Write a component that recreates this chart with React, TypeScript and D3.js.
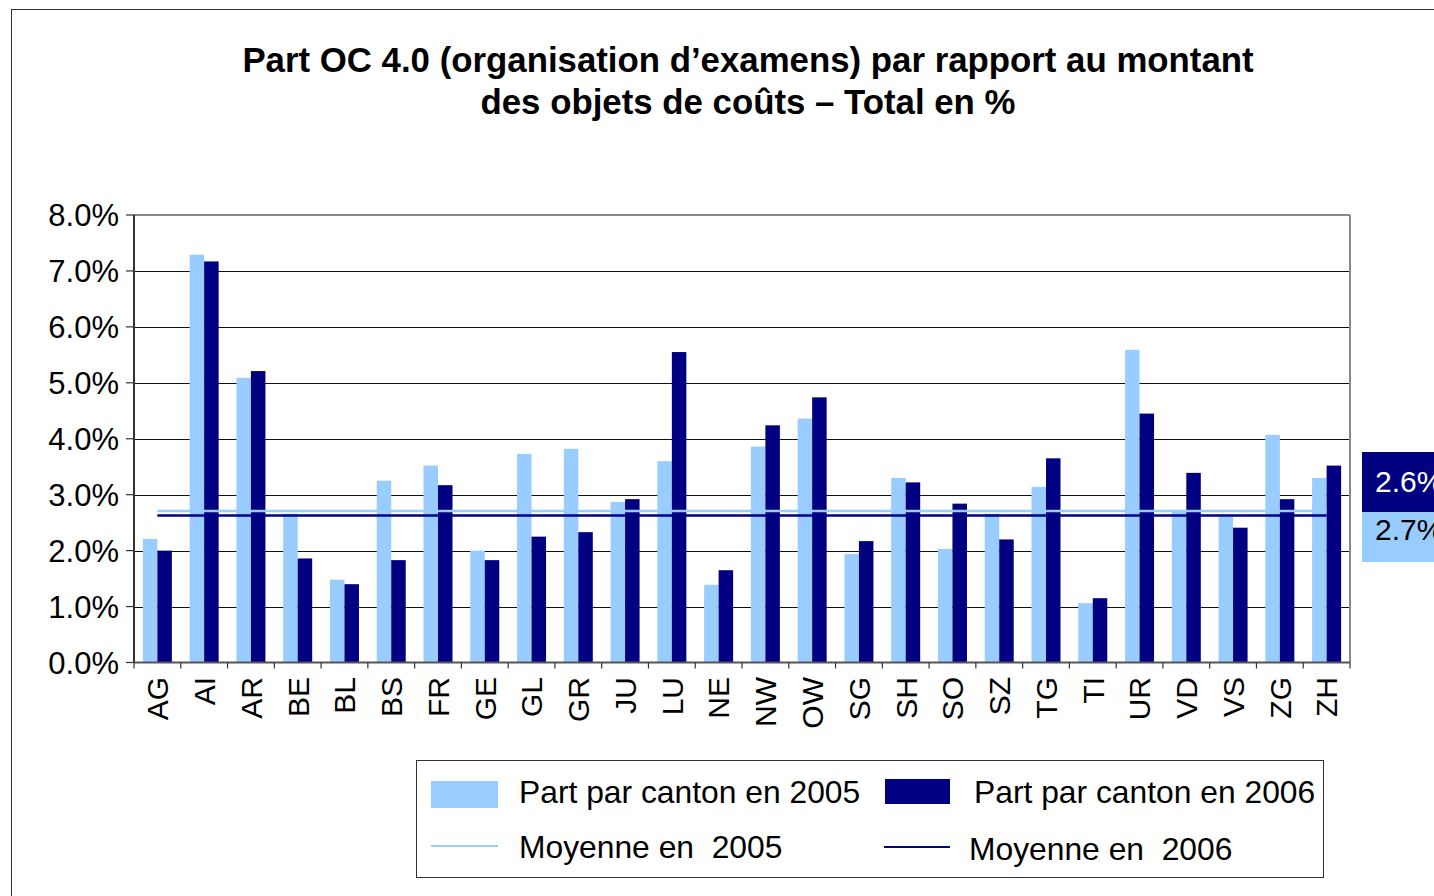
import React from 'react';
import * as d3 from 'd3';

const categories = ['AG','AI','AR','BE','BL','BS','FR','GE','GL','GR','JU','LU','NE','NW','OW','SG','SH','SO','SZ','TG','TI','UR','VD','VS','ZG','ZH'];
const values2005 = [2.21,7.29,5.09,2.66,1.48,3.25,3.52,2.0,3.73,3.82,2.87,3.60,1.39,3.86,4.36,1.94,3.30,2.03,2.66,3.14,1.06,5.59,2.70,2.61,4.07,3.30];
const values2006 = [2.0,7.17,5.21,1.86,1.40,1.83,3.17,1.83,2.25,2.33,2.92,5.55,1.65,4.24,4.74,2.17,3.22,2.84,2.20,3.65,1.15,4.45,3.39,2.41,2.92,3.52];
const average2005 = 2.71;
const average2006 = 2.63;
const yTicks = [0,1,2,3,4,5,6,7,8];
const titleLines = ['Part OC 4.0 (organisation d\u2019examens) par rapport au montant', 'des objets de co\u00fbts \u2013 Total en %'];
const legendLabels = ['Part par canton en 2005', 'Part par canton en 2006', 'Moyenne en  2005', 'Moyenne en  2006'];

const LIGHT = '#99ccff';
const DARK = '#000080';
const FONT = '"Liberation Sans", Arial, Helvetica, sans-serif';

export default function App() {
  const W = 1434, H = 896;
  const left = 134, right = 1350, top = 215, bottom = 662.5;
  const x = d3.scaleBand<string>().domain(categories).range([left, right]).padding(0);
  const y = d3.scaleLinear().domain([0, 8]).range([bottom, top]);
  const step = x.step();
  const barW = step * 0.31;
  const fmt = (v: number) => d3.format('.1f')(v) + '%';
  const firstC = (x(categories[0]) as number) + step / 2;
  const lastC = (x(categories[categories.length - 1]) as number) + step / 2;
  const pre = { whiteSpace: 'pre' as const };

  return (
    <svg width={W} height={H} style={{ position: 'absolute', left: 0, top: 0, display: 'block', background: '#fff' }} fontFamily={FONT}>
      <rect x={11.5} y={9.5} width={W + 20} height={H + 20} fill="#fff" stroke="#333" strokeWidth={1} />
      {titleLines.map((t, i) => (
        <text key={i} x={748} y={72 + i * 42} textAnchor="middle" fontWeight="bold" fontSize={34.8} fill="#000">{t}</text>
      ))}
      {/* gridlines */}
      {yTicks.filter(t => t > 0 && t < 8).map(t => (
        <line key={t} x1={left} x2={right} y1={Math.round(y(t)) + 0.5} y2={Math.round(y(t)) + 0.5} stroke="#111" strokeWidth={1.2} />
      ))}
      {/* plot border */}
      <line x1={left} x2={right} y1={top} y2={top} stroke="#888" strokeWidth={2} />
      <line x1={right} x2={right} y1={top} y2={bottom} stroke="#888" strokeWidth={2} />
      {/* bars */}
      {categories.map((c, i) => {
        const cx = (x(c) as number) + step / 2;
        return (
          <g key={c}>
            <rect x={cx - barW} y={y(values2005[i])} width={barW} height={bottom - y(values2005[i])} fill={LIGHT} />
            <rect x={cx} y={y(values2006[i])} width={barW} height={bottom - y(values2006[i])} fill={DARK} />
          </g>
        );
      })}
      {/* average lines */}
      <line x1={firstC} x2={lastC} y1={y(average2005)} y2={y(average2005)} stroke={LIGHT} strokeWidth={2.5} />
      <line x1={firstC} x2={lastC} y1={y(average2006)} y2={y(average2006)} stroke={DARK} strokeWidth={2.5} />
      {/* axes */}
      <line x1={left} x2={left} y1={top} y2={bottom} stroke="#333" strokeWidth={2} />
      <line x1={left} x2={right} y1={bottom} y2={bottom} stroke="#555" strokeWidth={2} />
      {yTicks.map(t => (
        <g key={t}>
          <line x1={left - 8} x2={left} y1={y(t)} y2={y(t)} stroke="#333" strokeWidth={1.2} />
          <text x={119} y={y(t)} dy="0.36em" textAnchor="end" fontSize={31} fill="#000">{fmt(t)}</text>
        </g>
      ))}
      {d3.range(categories.length + 1).map(i => (
        <line key={i} x1={left + i * step} x2={left + i * step} y1={bottom} y2={bottom + 6} stroke="#333" strokeWidth={1.2} />
      ))}
      {categories.map(c => {
        const cx = (x(c) as number) + step / 2;
        return (
          <text key={c} transform={`translate(${cx},677) rotate(-90)`} dy="0.36em" textAnchor="end" fontSize={30} fill="#000">{c}</text>
        );
      })}
      {/* right value labels */}
      <rect x={1362} y={452} width={80} height={60} fill={DARK} />
      <text x={1375} y={481} dy="0.36em" fontSize={30} fill="#fff">{fmt(average2006)}</text>
      <rect x={1362} y={512} width={80} height={50} fill={LIGHT} />
      <text x={1375} y={529} dy="0.36em" fontSize={30} fill="#000">{fmt(average2005)}</text>
      {/* legend */}
      <rect x={416.5} y={760.5} width={907} height={117} fill="#fff" stroke="#333" strokeWidth={1} />
      <rect x={431} y={781} width={67} height={27} fill={LIGHT} />
      <text x={519} y={803} fontSize={31.8} fill="#000" style={pre}>{legendLabels[0]}</text>
      <rect x={885} y={779} width={65} height={25} fill={DARK} />
      <text x={974} y={803} fontSize={31.8} fill="#000" style={pre}>{legendLabels[1]}</text>
      <line x1={431} x2={498} y1={846} y2={846} stroke={LIGHT} strokeWidth={2} />
      <text x={519} y={858} fontSize={31.8} fill="#000" style={pre}>{legendLabels[2]}</text>
      <line x1={884} x2={950} y1={847} y2={847} stroke={DARK} strokeWidth={2} />
      <text x={969} y={860} fontSize={31.8} fill="#000" style={pre}>{legendLabels[3]}</text>
    </svg>
  );
}
